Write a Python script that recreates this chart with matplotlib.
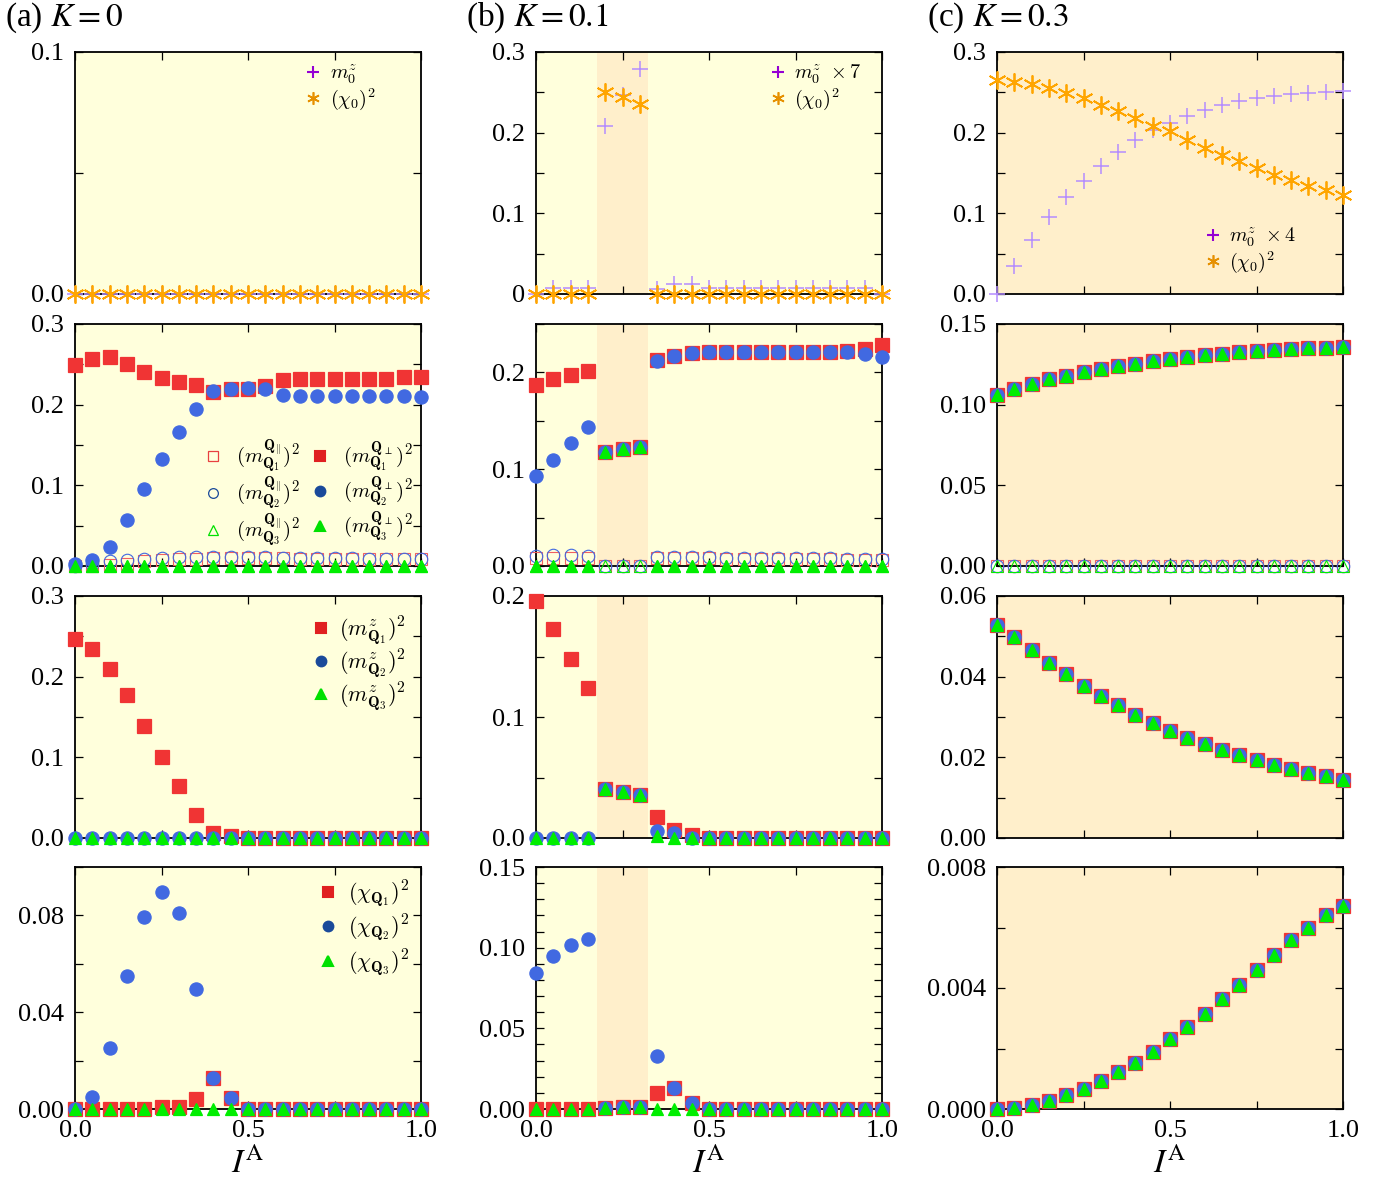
import matplotlib
matplotlib.use("Agg")
import matplotlib.pyplot as plt
from matplotlib.font_manager import FontProperties
from matplotlib.lines import Line2D

plt.rcParams["font.family"] = ["Liberation Serif", "DejaVu Serif"]
plt.rcParams["mathtext.fontset"] = "stix"

# x grid (I^A)
IA = [0.0, 0.05, 0.1, 0.15, 0.2, 0.25, 0.3, 0.35, 0.4, 0.45, 0.5,
      0.55, 0.6, 0.65, 0.7, 0.75, 0.8, 0.85, 0.9, 0.95, 1.0]
ZERO = [0.0] * 21

# ---- (a) K = 0
a_m0z = ZERO
a_chi0 = ZERO
a_mpar1 = [0.0, 0.0, 0.001, 0.003, 0.006, 0.008, 0.009, 0.009, 0.010, 0.010, 0.010,
           0.010, 0.010, 0.009, 0.009, 0.009, 0.009, 0.009, 0.009, 0.009, 0.009]
a_mpar2 = [0.0, 0.002, 0.006, 0.008, 0.009, 0.010, 0.011, 0.011, 0.011, 0.011, 0.011,
           0.011, 0.010, 0.010, 0.010, 0.010, 0.010, 0.009, 0.009, 0.009, 0.009]
a_mpar3 = ZERO
a_mperp1 = [0.249, 0.257, 0.259, 0.251, 0.241, 0.233, 0.228, 0.224, 0.216, 0.220, 0.220,
            0.223, 0.231, 0.232, 0.232, 0.232, 0.232, 0.232, 0.232, 0.234, 0.234]
a_mperp2 = [0.003, 0.007, 0.024, 0.057, 0.095, 0.133, 0.166, 0.195, 0.217, 0.219, 0.221,
            0.220, 0.212, 0.211, 0.211, 0.211, 0.211, 0.211, 0.211, 0.211, 0.209]
a_mperp3 = ZERO
a_mz1 = [0.247, 0.234, 0.209, 0.177, 0.139, 0.101, 0.065, 0.029, 0.006, 0.002, 0.0,
         0.0, 0.0, 0.0, 0.0, 0.0, 0.0, 0.0, 0.0, 0.0, 0.0]
a_mz2 = ZERO
a_mz3 = ZERO
a_chi1 = [0.0, 0.0, 0.0, 0.0, 0.0, 0.0008, 0.001, 0.004, 0.0127, 0.0045, 0.0,
          0.0, 0.0, 0.0, 0.0, 0.0, 0.0, 0.0, 0.0, 0.0, 0.0]
a_chi2 = [0.0, 0.005, 0.0252, 0.0549, 0.0794, 0.0898, 0.081, 0.0497, 0.0127, 0.0045, 0.0,
          0.0, 0.0, 0.0, 0.0, 0.0, 0.0, 0.0, 0.0, 0.0, 0.0]
a_chi3 = ZERO

# ---- (b) K = 0.1
b_m0z7 = [0.0, 0.008, 0.008, 0.008, 0.208, 0.247, 0.279, 0.006, 0.012, 0.012, 0.007,
          0.007, 0.007, 0.007, 0.007, 0.007, 0.008, 0.007, 0.007, 0.007, 0.0]
b_chi0 = [0.0, 0.0, 0.0, 0.0, 0.251, 0.244, 0.235, 0.0, 0.0, 0.0, 0.0,
          0.0, 0.0, 0.0, 0.0, 0.0, 0.0, 0.0, 0.0, 0.0, 0.0]
b_mpar1 = [0.008, 0.008, 0.008, 0.008, 0.0, 0.0, 0.0, 0.008, 0.008, 0.008, 0.008,
           0.007, 0.007, 0.007, 0.007, 0.007, 0.007, 0.007, 0.006, 0.006, 0.006]
b_mpar2 = [0.010, 0.011, 0.011, 0.010, 0.0, 0.0, 0.0, 0.009, 0.009, 0.009, 0.009,
           0.008, 0.008, 0.008, 0.008, 0.008, 0.008, 0.008, 0.007, 0.007, 0.007]
b_mpar3 = ZERO
b_mperp1 = [0.187, 0.193, 0.197, 0.201, 0.118, 0.1205, 0.1226, 0.2125, 0.217, 0.2197, 0.221,
            0.221, 0.221, 0.221, 0.221, 0.221, 0.221, 0.221, 0.222, 0.224, 0.228]
b_mperp2 = [0.093, 0.1095, 0.1267, 0.144, 0.118, 0.1205, 0.1226, 0.2118, 0.217, 0.2197, 0.221,
            0.221, 0.221, 0.221, 0.221, 0.221, 0.221, 0.221, 0.221, 0.2187, 0.216]
b_mperp3 = [0.0, 0.0, 0.0, 0.0, 0.118, 0.1205, 0.1226, 0.0, 0.0, 0.0, 0.0,
            0.0, 0.0, 0.0, 0.0, 0.0, 0.0, 0.0, 0.0, 0.0, 0.0]
b_mz1 = [0.196, 0.1726, 0.148, 0.124, 0.0407, 0.038, 0.0357, 0.0174, 0.0066, 0.0025, 0.0,
         0.0, 0.0, 0.0, 0.0, 0.0, 0.0, 0.0, 0.0, 0.0, 0.0]
b_mz2 = [0.0, 0.0, 0.0, 0.0, 0.0407, 0.038, 0.0357, 0.006, 0.004, 0.0, 0.0,
         0.0, 0.0, 0.0, 0.0, 0.0, 0.0, 0.0, 0.0, 0.0, 0.0]
b_mz3 = [0.0, 0.0, 0.0, 0.0, 0.0407, 0.038, 0.0357, 0.002, 0.0, 0.0, 0.0,
         0.0, 0.0, 0.0, 0.0, 0.0, 0.0, 0.0, 0.0, 0.0, 0.0]
b_chi1 = [0.0, 0.0, 0.0, 0.0, 0.0006, 0.001, 0.0015, 0.0097, 0.0128, 0.0035, 0.0,
          0.0, 0.0, 0.0, 0.0, 0.0, 0.0, 0.0, 0.0, 0.0, 0.0]
b_chi2 = [0.0845, 0.0949, 0.1017, 0.1052, 0.0006, 0.001, 0.0015, 0.0329, 0.0128, 0.0035, 0.0,
          0.0, 0.0, 0.0, 0.0, 0.0, 0.0, 0.0, 0.0, 0.0, 0.0]
b_chi3 = [0.0, 0.0, 0.0, 0.0, 0.0006, 0.001, 0.0015, 0.0, 0.0, 0.0, 0.0,
          0.0, 0.0, 0.0, 0.0, 0.0, 0.0, 0.0, 0.0, 0.0, 0.0]

# ---- (c) K = 0.3
c_m0z4 = [0.0, 0.035, 0.067, 0.095, 0.120, 0.140, 0.159, 0.176, 0.191, 0.203, 0.212,
          0.221, 0.228, 0.234, 0.239, 0.243, 0.245, 0.248, 0.249, 0.250, 0.252]
c_chi0 = [0.265, 0.263, 0.260, 0.255, 0.249, 0.243, 0.234, 0.227, 0.218, 0.208, 0.202,
          0.191, 0.181, 0.172, 0.165, 0.156, 0.148, 0.141, 0.134, 0.129, 0.123]
c_mpar = ZERO
c_mperp = [0.106, 0.110, 0.113, 0.116, 0.118, 0.120, 0.122, 0.124, 0.125, 0.127, 0.128,
           0.1295, 0.131, 0.1314, 0.1326, 0.133, 0.134, 0.1345, 0.135, 0.135, 0.1357]
c_mz = [0.0528, 0.0498, 0.0466, 0.0433, 0.0406, 0.0376, 0.0353, 0.0329, 0.0306, 0.0286, 0.0266,
        0.0249, 0.0234, 0.0219, 0.0207, 0.0194, 0.0182, 0.0172, 0.0162, 0.0154, 0.0144]
c_chi = [0.0, 0.00003, 0.00013, 0.00027, 0.00046, 0.00066, 0.00093, 0.00123, 0.00153, 0.0019, 0.0023,
         0.0027, 0.00315, 0.00365, 0.0041, 0.0046, 0.0051, 0.0056, 0.006, 0.0064, 0.0067]

# colours
BG = "#FFFFDC"
BG_C = "#FFEFCB"
RED = "#F03434"
RED_OPEN = "#F06060"
BLUE = "#4169E1"
BLUE_KEY = "#1A4A9A"
GREEN = "#00EE00"
PURPLE = "#B48CFF"
PURPLE_KEY = "#9400D3"
ORANGE = "#FFA500"
ORANGE_KEY = "#E69000"
AST = (6, 2, 0)

W, H = 1399, 1184
fig = plt.figure(figsize=(W / 100, H / 100), dpi=100)
col_left = [75, 536, 997]
row_top = [52, 324, 596, 867]
aw, ah = 346, 242


def make_ax(col, row, bg, ymax, yticks, ylabels):
    ax = fig.add_axes([col_left[col] / W, 1 - (row_top[row] + ah) / H, aw / W, ah / H])
    ax.set_facecolor(bg)
    ax.set_xlim(0, 1)
    ax.set_ylim(0, ymax)
    ax.set_xticks([0, 0.25, 0.5, 0.75, 1.0])
    if row == 3:
        ax.set_xticklabels(["0.0", "", "0.5", "", "1.0"])
    else:
        ax.set_xticklabels([""] * 5)
    ax.set_yticks(yticks)
    ax.set_yticklabels(ylabels)
    ax.tick_params(direction="in", top=True, right=True, length=6, width=0.9,
                   labelsize=19, pad=8)
    for s in ax.spines.values():
        s.set_linewidth(1.3)
    if col == 1:
        ax.axvspan(0.175, 0.325, color=BG_C, lw=0, zorder=0)
    return ax


def pts(ax, y, marker, color, ms, filled=True, mew=0.9):
    if filled:
        ax.plot(IA, y, ls="none", marker=marker, color=color, ms=ms, mew=mew,
                clip_on=False, zorder=3)
    else:
        ax.plot(IA, y, ls="none", marker=marker, mfc="none", mec=color, ms=ms,
                mew=mew, clip_on=False, zorder=3)


def key(ax, handles, labels, x, y, size=16, ncol=1, spacing=0.0, colsp=1.0, pad=0.4):
    ax.legend(handles, labels, loc="upper left", bbox_to_anchor=(x, y), ncol=ncol,
              frameon=False, prop=FontProperties(size=size, math_fontfamily="cm"),
              handlelength=1.0, handletextpad=pad, borderpad=0, borderaxespad=0,
              labelspacing=spacing, columnspacing=colsp)


def h(marker, color, ms, filled=True, mew=1.5):
    if filled:
        return Line2D([], [], ls="none", marker=marker, color=color, ms=ms, mew=mew)
    return Line2D([], [], ls="none", marker=marker, mfc="none", mec=color, ms=ms, mew=0.9)


def top_row(ax, m0z, chi0):
    pts(ax, m0z, "+", PURPLE, 11, mew=1.1)
    pts(ax, chi0, AST, ORANGE, 13, mew=1.3)


def perp_row(ax, par1, par2, par3, perp1, perp2, perp3):
    pts(ax, par1, "s", RED_OPEN, 9, filled=False, mew=0.8)
    pts(ax, par2, "o", BLUE, 9, filled=False, mew=0.8)
    pts(ax, par3, "^", GREEN, 8, filled=False, mew=0.8)
    pts(ax, perp1, "s", RED, 9.5)
    pts(ax, perp2, "o", BLUE, 9.5)
    pts(ax, perp3, "^", GREEN, 8)


def three_row(ax, y1, y2, y3):
    pts(ax, y1, "s", RED, 9.5)
    pts(ax, y2, "o", BLUE, 9.5)
    pts(ax, y3, "^", GREEN, 8)


plus_key = h("+", PURPLE_KEY, 8)
ast_key = h(AST, ORANGE_KEY, 9, mew=1.2)
sq_key = h("s", "#E02020", 7)
ci_key = h("o", BLUE_KEY, 7)
tr_key = h("^", "#00E000", 7)

# column (a)
ax = make_ax(0, 0, BG, 0.1, [0, 0.05, 0.1], ["0.0", "", "0.1"])
top_row(ax, a_m0z, a_chi0)
key(ax, [plus_key, ast_key], [r"$m_0^z$", r"$(\chi_0)^2$"], 0.66, 0.955, size=14.5, pad=0.3)

ax = make_ax(0, 1, BG, 0.3, [0, 0.05, 0.1, 0.15, 0.2, 0.25, 0.3],
             ["0.0", "", "0.1", "", "0.2", "", "0.3"])
perp_row(ax, a_mpar1, a_mpar2, a_mpar3, a_mperp1, a_mperp2, a_mperp3)
par_lab = [r"$(m_{\mathbf{Q}_%d}^{\mathbf{Q}_\Vert})^2$" % i for i in (1, 2, 3)]
perp_lab = [r"$(m_{\mathbf{Q}_%d}^{\mathbf{Q}_\perp})^2$" % i for i in (1, 2, 3)]
key(ax, [h("s", "#E84040", 7, False), h("o", BLUE_KEY, 7, False), h("^", "#00E000", 7, False),
         sq_key, ci_key, tr_key], par_lab + perp_lab, 0.37, 0.53, size=15, ncol=2,
    spacing=0.0, colsp=0.45, pad=0.6)

ax = make_ax(0, 2, BG, 0.3, [0, 0.05, 0.1, 0.15, 0.2, 0.25, 0.3],
             ["0.0", "", "0.1", "", "0.2", "", "0.3"])
three_row(ax, a_mz1, a_mz2, a_mz3)
key(ax, [sq_key, ci_key, tr_key],
    [r"$(m_{\mathbf{Q}_%d}^z)^2$" % i for i in (1, 2, 3)], 0.68, 0.925, spacing=0.0, pad=0.3)

ax = make_ax(0, 3, BG, 0.1, [0, 0.02, 0.04, 0.06, 0.08, 0.1],
             ["0.00", "", "0.04", "", "0.08", ""])
three_row(ax, a_chi1, a_chi2, a_chi3)
key(ax, [sq_key, ci_key, tr_key],
    [r"$(\chi_{\mathbf{Q}_%d})^2$" % i for i in (1, 2, 3)], 0.70, 0.955, spacing=0.16, pad=0.4)

# column (b)
ax = make_ax(1, 0, BG, 0.3, [0, 0.05, 0.1, 0.15, 0.2, 0.25, 0.3],
             ["0", "", "0.1", "", "0.2", "", "0.3"])
top_row(ax, b_m0z7, b_chi0)
key(ax, [plus_key, ast_key], [r"$m_0^z\ \times 7$", r"$(\chi_0)^2$"], 0.67, 0.955,
    size=14.5, pad=0.3)

ax = make_ax(1, 1, BG, 0.25, [0, 0.05, 0.1, 0.15, 0.2, 0.25],
             ["0.0", "", "0.1", "", "0.2", ""])
perp_row(ax, b_mpar1, b_mpar2, b_mpar3, b_mperp1, b_mperp2, b_mperp3)

ax = make_ax(1, 2, BG, 0.2, [0, 0.05, 0.1, 0.15, 0.2],
             ["0.0", "", "0.1", "", "0.2"])
three_row(ax, b_mz1, b_mz2, b_mz3)

b4_ticks = [i / 100 for i in range(16)]
b4_labels = [{0: "0.00", 5: "0.05", 10: "0.10", 15: "0.15"}.get(i, "") for i in range(16)]
ax = make_ax(1, 3, BG, 0.15, b4_ticks, b4_labels)
three_row(ax, b_chi1, b_chi2, b_chi3)

# column (c)
ax = make_ax(2, 0, BG_C, 0.3, [0, 0.05, 0.1, 0.15, 0.2, 0.25, 0.3],
             ["0.0", "", "0.1", "", "0.2", "", "0.3"])
top_row(ax, c_m0z4, c_chi0)
key(ax, [plus_key, ast_key], [r"$m_0^z\ \times 4$", r"$(\chi_0)^2$"], 0.595, 0.28,
    size=14.5, pad=0.3)

ax = make_ax(2, 1, BG_C, 0.15, [0, 0.05, 0.1, 0.15], ["0.00", "0.05", "0.10", "0.15"])
perp_row(ax, c_mpar, c_mpar, c_mpar, c_mperp, c_mperp, c_mperp)

ax = make_ax(2, 2, BG_C, 0.06, [0, 0.01, 0.02, 0.03, 0.04, 0.05, 0.06],
             ["0.00", "", "0.02", "", "0.04", "", "0.06"])
three_row(ax, c_mz, c_mz, c_mz)

ax = make_ax(2, 3, BG_C, 0.008, [0, 0.002, 0.004, 0.006, 0.008],
             ["0.000", "", "0.004", "", "0.008"])
three_row(ax, c_chi, c_chi, c_chi)

# titles and x labels
for col, title in enumerate([r"(a) $K=0$", r"(b) $K=0.1$", r"(c) $K=0.3$"]):
    fig.text((col_left[col] - 70) / W, 1 - 18 / H, title, fontsize=24, va="center")
    fig.text((col_left[col] + aw / 2) / W, 1 - 1163 / H, r"$I^{\mathrm{A}}$",
             fontsize=24, ha="center", va="center")

fig.savefig("out.png", dpi=100)
